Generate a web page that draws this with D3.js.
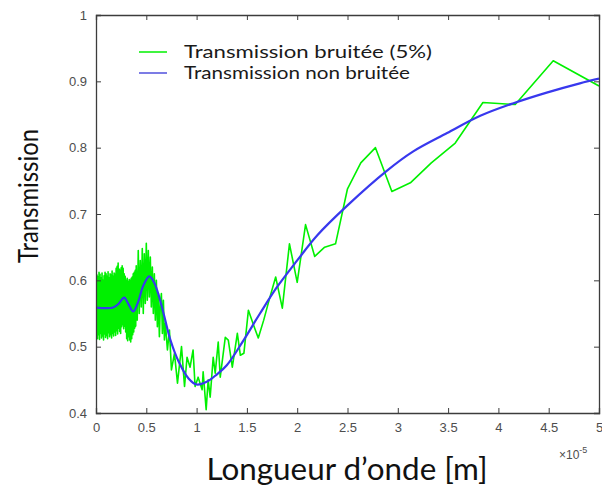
<!DOCTYPE html>
<html>
<head>
<meta charset="utf-8">
<script src="https://cdn.jsdelivr.net/npm/d3@7"></script>
<style>
  html, body { margin: 0; padding: 0; background: #fff; }
  svg { display: block; }
</style>
</head>
<body>
<svg id="chart" width="602" height="488"></svg>
<script>
// ---- Data (wavelength in units of 1e-5 m) ----
const xTicks = [0, 0.5, 1, 1.5, 2, 2.5, 3, 3.5, 4, 4.5, 5];
const xTickLabels = ["0", "0.5", "1", "1.5", "2", "2.5", "3", "3.5", "4", "4.5", "5"];
const yTicks = [0.4, 0.5, 0.6, 0.7, 0.8, 0.9, 1];
const yTickLabels = ["0.4", "0.5", "0.6", "0.7", "0.8", "0.9", "1"];

const seriesNames = ["Transmission bruitée (5%)", "Transmission non bruitée"];

// Noisy transmission
const noisyX = [
  0.000, 0.005, 0.010, 0.015, 0.020, 0.025, 0.030, 0.035, 0.040, 0.045,
  0.050, 0.055, 0.060, 0.065, 0.070, 0.075, 0.080, 0.085, 0.090, 0.095,
  0.100, 0.105, 0.110, 0.115, 0.120, 0.125, 0.130, 0.135, 0.140, 0.145,
  0.150, 0.155, 0.160, 0.165, 0.170, 0.175, 0.180, 0.185, 0.190, 0.195,
  0.200, 0.205, 0.210, 0.215, 0.220, 0.225, 0.230, 0.235, 0.240, 0.245,
  0.250, 0.255, 0.260, 0.265, 0.270, 0.275, 0.280, 0.285, 0.290, 0.295,
  0.300, 0.305, 0.310, 0.315, 0.320, 0.325, 0.330, 0.335, 0.340, 0.345,
  0.350, 0.355, 0.360, 0.365, 0.370, 0.375, 0.380, 0.385, 0.390, 0.395,
  0.40, 0.41, 0.42, 0.43, 0.44, 0.45, 0.46, 0.47, 0.48, 0.49,
  0.50, 0.51, 0.52, 0.53, 0.54, 0.55, 0.56, 0.57, 0.58, 0.59,
  0.60, 0.61, 0.62, 0.63, 0.64, 0.65, 0.66, 0.67, 0.68, 0.69,
  0.71, 0.73, 0.75, 0.78, 0.81, 0.85, 0.88, 0.905, 0.935, 0.965,
  0.985, 1.015, 1.055, 1.065, 1.095, 1.115, 1.135, 1.165, 1.185, 1.215,
  1.235, 1.285, 1.315, 1.355, 1.405, 1.435, 1.47, 1.515, 1.5625, 1.613,
  1.667, 1.724, 1.786, 1.852, 1.923, 2.000, 2.083, 2.174, 2.273, 2.381,
  2.500, 2.632, 2.778, 2.941, 3.125, 3.333, 3.571, 3.846, 4.167, 4.545,
  5.000
];
const noisyY = [
  0.610, 0.515, 0.608, 0.512, 0.605, 0.518, 0.612, 0.511, 0.609, 0.520,
  0.604, 0.513, 0.611, 0.516, 0.600, 0.510, 0.607, 0.519, 0.612, 0.514,
  0.610, 0.517, 0.606, 0.512, 0.613, 0.521, 0.604, 0.515, 0.610, 0.518,
  0.608, 0.513, 0.614, 0.520, 0.606, 0.516, 0.611, 0.522, 0.609, 0.517,
  0.618, 0.524, 0.621, 0.519, 0.626, 0.528, 0.617, 0.523, 0.615, 0.520,
  0.619, 0.530, 0.622, 0.533, 0.618, 0.527, 0.610, 0.531, 0.606, 0.522,
  0.600, 0.512, 0.603, 0.509, 0.598, 0.515, 0.601, 0.510, 0.600, 0.507,
  0.603, 0.512, 0.605, 0.518, 0.610, 0.522, 0.612, 0.528, 0.615, 0.531,
  0.622, 0.540, 0.645, 0.550, 0.630, 0.560, 0.648, 0.550, 0.640, 0.565,
  0.656, 0.570, 0.645, 0.575, 0.635, 0.560, 0.620, 0.550, 0.610, 0.540,
  0.600, 0.530, 0.580, 0.515, 0.565, 0.580, 0.520, 0.570, 0.510, 0.535,
  0.495, 0.525, 0.465, 0.490, 0.445, 0.500, 0.440, 0.484, 0.469, 0.495,
  0.440, 0.454, 0.435, 0.462, 0.405, 0.450, 0.424, 0.484, 0.460, 0.507,
  0.454, 0.514, 0.510, 0.469, 0.520, 0.487, 0.490, 0.555, 0.534, 0.513,
  0.540, 0.572, 0.605, 0.558, 0.655, 0.597, 0.684, 0.636, 0.650, 0.655,
  0.738, 0.777, 0.800, 0.734, 0.747, 0.777, 0.807, 0.868, 0.865, 0.931,
  0.893
];

// Noise-free transmission
const cleanX = [0, 0.10, 0.17, 0.22, 0.28, 0.32, 0.37, 0.42, 0.47, 0.53,
  0.58, 0.63, 0.68, 0.74, 0.82, 0.92, 1.00, 1.10, 1.20, 1.30,
  1.46, 1.63, 1.80, 2.00, 2.20, 2.50, 2.89, 3.15, 3.49, 3.82,
  4.15, 4.48, 4.81, 5.00];
const cleanY = [0.559, 0.558, 0.559, 0.564, 0.574, 0.565, 0.553, 0.568, 0.592, 0.606,
  0.596, 0.574, 0.545, 0.510, 0.478, 0.452, 0.443, 0.447, 0.458, 0.472,
  0.508, 0.550, 0.590, 0.630, 0.668, 0.713, 0.765, 0.794, 0.822, 0.848,
  0.867, 0.883, 0.897, 0.904];

// ---- Layout ----
const svg = d3.select("#chart");
const L = 96, R = 599, T = 15, B = 413;
const x = d3.scaleLinear().domain([0, 5]).range([L, R]);
const y = d3.scaleLinear().domain([0.4, 1]).range([B, T]);

const axisColor = "#3c3c3c";
const labelColor = "#4d4d4d";

svg.append("defs").append("clipPath").attr("id", "clip")
  .append("rect").attr("x", L).attr("y", T).attr("width", R - L).attr("height", B - T);

const noisy = noisyX.map((v, i) => [v, noisyY[i]]);
const clean = cleanX.map((v, i) => [v, cleanY[i]]);

const gPlot = svg.append("g").attr("clip-path", "url(#clip)");

gPlot.append("path")
  .datum(noisy)
  .attr("fill", "none")
  .attr("stroke", "#00f000")
  .attr("stroke-width", 1.6)
  .attr("stroke-linejoin", "round")
  .attr("d", d3.line().x(d => x(d[0])).y(d => y(d[1])));

gPlot.append("path")
  .datum(clean)
  .attr("fill", "none")
  .attr("stroke", "#3838ee")
  .attr("stroke-width", 2.2)
  .attr("d", d3.line().curve(d3.curveCatmullRom.alpha(0.5)).x(d => x(d[0])).y(d => y(d[1])));

// ---- Axes (box with inward ticks) ----
const tickLen = 5;
const axB = svg.append("g").attr("transform", `translate(0,${B})`)
  .call(d3.axisBottom(x).tickValues(xTicks).tickSize(-tickLen).tickPadding(10)
    .tickFormat((d, i) => xTickLabels[i]));
const axT = svg.append("g").attr("transform", `translate(0,${T})`)
  .call(d3.axisTop(x).tickValues(xTicks).tickSize(-tickLen).tickFormat(""));
const axL = svg.append("g").attr("transform", `translate(${L},0)`)
  .call(d3.axisLeft(y).tickValues(yTicks).tickSize(-tickLen).tickPadding(9)
    .tickFormat((d, i) => yTickLabels[i]));
const axR = svg.append("g").attr("transform", `translate(${R},0)`)
  .call(d3.axisRight(y).tickValues(yTicks).tickSize(-tickLen).tickFormat(""));

[axB, axT, axL, axR].forEach(g => {
  g.selectAll(".domain").attr("stroke", axisColor).attr("stroke-width", 1.3);
  g.selectAll(".tick line").attr("stroke", axisColor).attr("stroke-width", 1);
  g.selectAll(".tick text")
    .attr("fill", labelColor)
    .style("font-family", "'Liberation Sans', Arial, sans-serif")
    .style("font-size", "13px");
});
axB.selectAll(".tick text").attr("dy", "0.71em");

// exponent label
const expG = svg.append("text")
  .attr("x", 559).attr("y", 459)
  .attr("fill", labelColor)
  .style("font-family", "'Liberation Sans', Arial, sans-serif")
  .style("font-size", "12px");
expG.append("tspan").text("\u00d710");
expG.append("tspan").attr("dy", -6).style("font-size", "9px").text("-5");

// ---- Axis titles ----
svg.append("text")
  .attr("transform", `translate(38,196) rotate(-90)`)
  .attr("text-anchor", "middle")
  .attr("fill", "#111")
  .attr("textLength", 134)
  .attr("lengthAdjust", "spacingAndGlyphs")
  .style("font-family", "Lato, 'Open Sans', sans-serif")
  .style("font-size", "27px")
  .text("Transmission");

svg.append("text")
  .attr("x", 347).attr("y", 480)
  .attr("text-anchor", "middle")
  .attr("fill", "#111")
  .attr("textLength", 281)
  .attr("lengthAdjust", "spacingAndGlyphs")
  .style("font-family", "Lato, 'Open Sans', sans-serif")
  .style("font-size", "31px")
  .text("Longueur d\u2019onde [m]");

// ---- Legend ----
const legColors = ["#00f000", "#5050dd"];
const legY = [52, 73];
const legLen = [248, 226];
seriesNames.forEach((name, i) => {
  svg.append("line")
    .attr("x1", 139).attr("x2", 167)
    .attr("y1", legY[i]).attr("y2", legY[i])
    .attr("stroke", legColors[i]).attr("stroke-width", 1.5);
  svg.append("text")
    .attr("x", 184).attr("y", legY[i])
    .attr("dy", "0.35em")
    .attr("fill", "#1a1a1a")
    .attr("textLength", legLen[i])
    .attr("lengthAdjust", "spacingAndGlyphs")
    .style("font-family", "Lato, 'Open Sans', sans-serif")
    .style("font-size", "18px")
    .text(name);
});
</script>
</body>
</html>
